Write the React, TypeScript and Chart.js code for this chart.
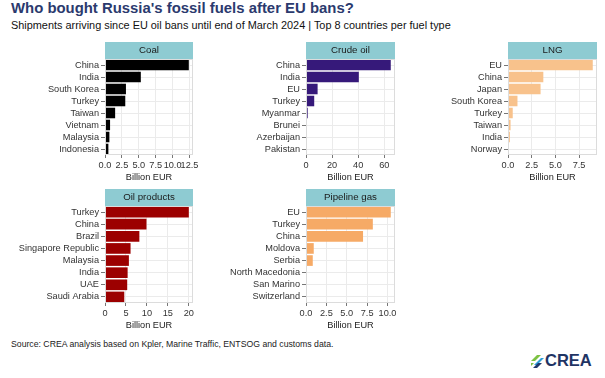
import React, { useEffect, useRef } from "react";
import { Chart, registerables } from "chart.js";
Chart.register(...registerables);

const FONT = '"Liberation Sans", Arial, Helvetica, sans-serif';
const STRIP = "#8ecbd2";

const coalCountries = ["China", "India", "South Korea", "Turkey", "Taiwan", "Vietnam", "Malaysia", "Indonesia"];
const coalValues = [12.4, 5.3, 3.1, 3.0, 1.5, 0.75, 0.65, 0.5];

const crudeCountries = ["China", "India", "EU", "Turkey", "Myanmar", "Brunei", "Azerbaijan", "Pakistan"];
const crudeValues = [65, 40.5, 8.9, 6.3, 1.3, 0.1, 0.08, 0.06];

const lngCountries = ["EU", "China", "Japan", "South Korea", "Turkey", "Taiwan", "India", "Norway"];
const lngValues = [8.95, 3.73, 3.44, 1.0, 0.5, 0.27, 0.2, 0.03];

const oilProdCountries = ["Turkey", "China", "Brazil", "Singapore Republic", "Malaysia", "India", "UAE", "Saudi Arabia"];
const oilProdValues = [20, 9.9, 8.2, 6.1, 5.7, 5.4, 5.3, 4.6];

const pipeCountries = ["EU", "Turkey", "China", "Moldova", "Serbia", "North Macedonia", "San Marino", "Switzerland"];
const pipeValues = [10.4, 8.2, 7.0, 0.95, 0.83, 0.05, 0.01, 0.01];

type PanelProps = {
  title: string;
  labels: string[];
  values: number[];
  color: string;
  step: number;
  decimals: number;
  canvasLeft: number;
  plotLeft: number;
  plotRight: number;
  plotTop: number;
  plotBottom: number;
};

function Panel(p: PanelProps) {
  const ref = useRef<HTMLCanvasElement>(null);
  const top = p.plotTop - 19;
  const width = p.plotRight + 10 - p.canvasLeft;
  const height = p.plotBottom + 30 - top;
  useEffect(() => {
    const stripPlugin = {
      id: "strip",
      afterDraw(chart: any) {
        const { ctx, chartArea: a } = chart;
        ctx.save();
        ctx.strokeStyle = "#dcdcdc";
        ctx.lineWidth = 1;
        ctx.strokeRect(a.left + 0.5, a.top + 0.5, a.right - a.left - 1, a.bottom - a.top - 1);
        ctx.fillStyle = STRIP;
        ctx.fillRect(a.left, a.top - 17, a.right - a.left, 17);
        ctx.fillStyle = "#1a1a1a";
        ctx.font = `9.7px ${FONT}`;
        ctx.textAlign = "center";
        ctx.textBaseline = "middle";
        ctx.fillText(p.title, (a.left + a.right) / 2, a.top - 8.5);
        ctx.restore();
      },
    };
    const maxV = Math.max(...p.values) * 1.05;
    const chart = new Chart(ref.current as HTMLCanvasElement, {
      type: "bar",
      data: {
        labels: p.labels,
        datasets: [
          {
            data: p.values,
            backgroundColor: p.color,
            barPercentage: 0.88,
            categoryPercentage: 1,
          },
        ],
      },
      options: {
        indexAxis: "y",
        animation: false,
        responsive: false,
        maintainAspectRatio: false,
        devicePixelRatio: 1,
        layout: { padding: { top: 19, right: 10, left: 0, bottom: 0 } },
        plugins: { legend: { display: false }, tooltip: { enabled: false } },
        scales: {
          x: {
            type: "linear",
            min: 0,
            max: maxV,
            afterFit: (s: any) => {
              s.height = 30;
            },
            ticks: {
              stepSize: p.step,
              includeBounds: false,
              autoSkip: false,
              maxRotation: 0,
              minRotation: 0,
              padding: 2,
              color: "#333",
              font: { size: 9.2, family: FONT },
              callback: (v: any) => Number(v).toFixed(p.decimals),
            },
            grid: { color: "#ebebeb", tickLength: 3, tickColor: "#777" },
            border: { display: false },
            title: {
              display: true,
              text: "Billion EUR",
              color: "#222",
              font: { size: 9.2, family: FONT },
              padding: { top: 0, bottom: 2 },
            },
          },
          y: {
            afterFit: (s: any) => {
              s.width = p.plotLeft - p.canvasLeft;
            },
            ticks: {
              autoSkip: false,
              padding: 2,
              color: "#333",
              font: { size: 9.2, family: FONT },
            },
            grid: { offset: false, color: "#ebebeb", tickLength: 4, tickColor: "#777" },
            border: { display: false },
          },
        },
      } as any,
      plugins: [stripPlugin],
    });
    return () => chart.destroy();
  }, []);
  return (
    <canvas
      ref={ref}
      width={width}
      height={height}
      style={{ position: "absolute", left: p.canvasLeft, top, width, height }}
    />
  );
}

export default function App() {
  return (
    <div
      style={{
        position: "absolute",
        left: 0,
        top: 0,
        width: 605,
        height: 378,
        background: "#fff",
        fontFamily: FONT,
        overflow: "hidden",
      }}
    >
      <div
        style={{
          position: "absolute",
          left: 11,
          top: 0,
          fontSize: 14.9,
          lineHeight: "17px",
          fontWeight: "bold",
          color: "#2b3a6e",
          whiteSpace: "nowrap",
        }}
      >
        Who bought Russia's fossil fuels after EU bans?
      </div>
      <div
        style={{
          position: "absolute",
          left: 11,
          top: 19,
          fontSize: 10.9,
          lineHeight: "13px",
          color: "#111",
          whiteSpace: "nowrap",
        }}
      >
        Shipments arriving since EU oil bans until end of March 2024 | Top 8 countries per fuel type
      </div>

      <Panel title="Coal" labels={coalCountries} values={coalValues} color="#000000" step={2.5} decimals={1}
        canvasLeft={0} plotLeft={105} plotRight={193} plotTop={59} plotBottom={155} />
      <Panel title="Crude oil" labels={crudeCountries} values={crudeValues} color="#36197a" step={20} decimals={0}
        canvasLeft={200} plotLeft={306} plotRight={395} plotTop={59} plotBottom={155} />
      <Panel title="LNG" labels={lngCountries} values={lngValues} color="#f8c28c" step={2.5} decimals={1}
        canvasLeft={400} plotLeft={508} plotRight={597} plotTop={59} plotBottom={155} />
      <Panel title="Oil products" labels={oilProdCountries} values={oilProdValues} color="#9c0000" step={5} decimals={0}
        canvasLeft={0} plotLeft={105} plotRight={193} plotTop={206} plotBottom={303} />
      <Panel title="Pipeline gas" labels={pipeCountries} values={pipeValues} color="#f6aa66" step={2.5} decimals={1}
        canvasLeft={200} plotLeft={306} plotRight={395} plotTop={206} plotBottom={303} />

      <div
        style={{
          position: "absolute",
          left: 11,
          top: 338.5,
          fontSize: 8.7,
          lineHeight: "11px",
          color: "#222",
          whiteSpace: "nowrap",
        }}
      >
        Source: CREA analysis based on Kpler, Marine Traffic, ENTSOG and customs data.
      </div>

      <svg
        width={13}
        height={13}
        viewBox="0 0 13 13"
        style={{ position: "absolute", left: 531, top: 355 }}
      >
        <polygon points="6,0 10,0 4,6 0,6" fill="#7cc242" />
        <polygon points="10,3 13,3 6,10 3,10" fill="#2f9fd8" />
        <polygon points="7,8 11,8 6,13 2,13" fill="#1f3a6e" />
        <polygon points="0,8 3,8 0,11" fill="#7cc242" />
      </svg>
      <div
        style={{
          position: "absolute",
          left: 545,
          top: 351,
          fontSize: 16.5,
          lineHeight: "19px",
          fontWeight: "bold",
          color: "#1f3464",
          whiteSpace: "nowrap",
        }}
      >
        CREA
      </div>
    </div>
  );
}
